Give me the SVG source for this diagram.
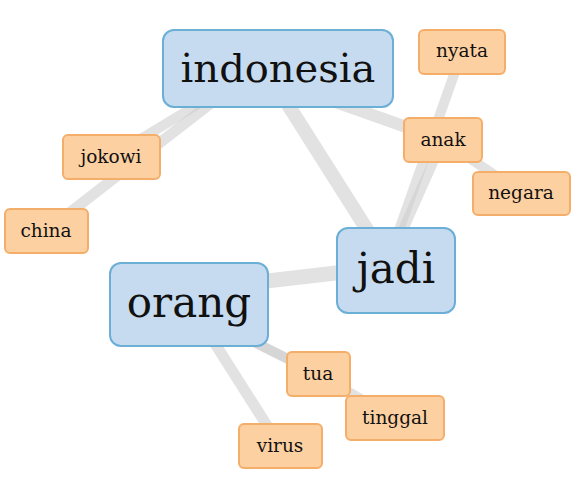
<svg xmlns="http://www.w3.org/2000/svg" width="583" height="487" viewBox="0 0 583 487">
<style>
.e{stroke:#cfcfcf;stroke-opacity:0.6;stroke-linecap:butt;fill:none}
.big rect{fill:#c6dbef;stroke:#6baed6;stroke-width:2}
.small rect{fill:#fdd0a2;stroke:#f5ad6a;stroke-width:2}
text{fill:#111;text-anchor:middle;font-family:"DejaVu Serif",serif}
.big text{font-size:40px}
.small text{font-size:18.5px}
</style>
<rect width="583" height="487" fill="#fff"/>
<g id="connectors">
<line class="e" x1="215" y1="100" x2="46" y2="231" stroke-width="11"/>
<line class="e" x1="205" y1="100" x2="111" y2="157" stroke-width="10"/>
<line class="e" x1="285" y1="100" x2="380" y2="250" stroke-width="14"/>
<line class="e" x1="330" y1="100" x2="443" y2="140" stroke-width="12"/>
<line class="e" x1="443" y1="140" x2="521" y2="193" stroke-width="10"/>
<line class="e" x1="462" y1="52" x2="392" y2="250" stroke-width="10"/>
<line class="e" x1="443" y1="140" x2="394" y2="250" stroke-width="10"/>
<line class="e" x1="189" y1="290" x2="396" y2="266" stroke-width="15"/>
<line class="e" x1="230" y1="330" x2="318" y2="374" stroke-width="10"/>
<line class="e" x1="230" y1="330" x2="318" y2="374" stroke-width="10"/>
<line class="e" x1="318" y1="374" x2="395" y2="418" stroke-width="9"/>
<line class="e" x1="200" y1="320" x2="280" y2="446" stroke-width="11"/>
</g>
<g id="indonesia" class="big"><rect x="163" y="30" width="230" height="77" rx="11"/><text x="278" y="82">indonesia</text></g>
<g id="jadi" class="big"><rect x="337" y="228" width="118" height="85" rx="11"/><text x="396" y="283" style="font-size:42px">jadi</text></g>
<g id="orang" class="big"><rect x="110" y="263" width="158" height="83" rx="11"/><text x="189" y="317" style="font-size:42px">orang</text></g>
<g id="nyata" class="small"><rect x="419" y="30" width="86" height="44" rx="5"/><text x="462" y="57">nyata</text></g>
<g id="anak" class="small"><rect x="404" y="118" width="78" height="44" rx="5"/><text x="443" y="146">anak</text></g>
<g id="negara" class="small"><rect x="473" y="172" width="97" height="43" rx="5"/><text x="521" y="199">negara</text></g>
<g id="jokowi" class="small"><rect x="63" y="135" width="97" height="44" rx="5"/><text x="111" y="163">jokowi</text></g>
<g id="china" class="small"><rect x="5" y="209" width="83" height="44" rx="5"/><text x="46" y="237">china</text></g>
<g id="tua" class="small"><rect x="287" y="352" width="63" height="44" rx="5"/><text x="318" y="380">tua</text></g>
<g id="tinggal" class="small"><rect x="346" y="396" width="98" height="44" rx="5"/><text x="395" y="424">tinggal</text></g>
<g id="virus" class="small"><rect x="239" y="424" width="83" height="44" rx="5"/><text x="280" y="452">virus</text></g>
</svg>
